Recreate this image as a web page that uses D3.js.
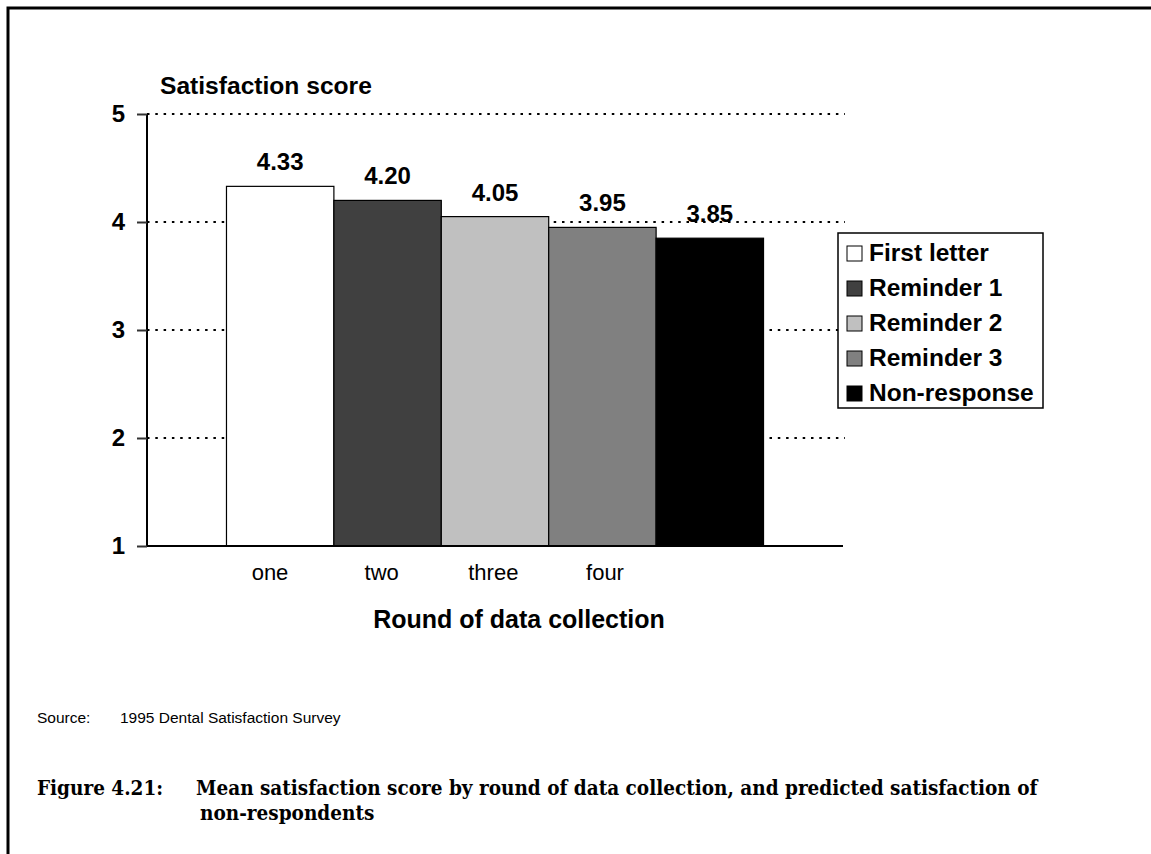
<!DOCTYPE html>
<html>
<head>
<meta charset="utf-8">
<script src="https://cdn.jsdelivr.net/npm/d3@7"></script>
<style>
  html, body { margin: 0; padding: 0; background: #fff; }
  svg { display: block; }
</style>
</head>
<body>
<svg id="chart" width="1151" height="854"></svg>
<script>
const seriesNames = ["First letter", "Reminder 1", "Reminder 2", "Reminder 3", "Non-response"];
const seriesValues = [4.33, 4.20, 4.05, 3.95, 3.85];
const seriesColors = ["#ffffff", "#404040", "#c0c0c0", "#808080", "#000000"];
const roundLabels = ["one", "two", "three", "four"];
const yTicks = [1, 2, 3, 4, 5];
const gridTicks = [2, 3, 4, 5];

(function () {
const svg = d3.select("#chart");
const sans = "'Liberation Sans', Arial, sans-serif";
const serif = "'DejaVu Serif Condensed', 'DejaVu Serif', serif";

// frame
svg.append("path")
  .attr("d", "M8,854 L8,8 L1151,8")
  .attr("fill", "none").attr("stroke", "#000").attr("stroke-width", 3);

const pLeft = 147, pRight = 843, pTop = 114, pBottom = 546;
const y = d3.scaleLinear().domain([1, 5]).range([pBottom, pTop]);
const x = d3.scaleBand().domain(seriesNames).range([pLeft, pRight]).paddingInner(0).paddingOuter(0.74);
const xLab = d3.scalePoint().domain(roundLabels).range([270, 605]);

// gridlines
svg.append("g").selectAll("line").data(gridTicks).join("line")
  .attr("x1", pLeft).attr("x2", pRight + 2)
  .attr("y1", d => y(d)).attr("y2", d => y(d))
  .attr("stroke", "#000").attr("stroke-width", 2)
  .attr("stroke-dasharray", "2.5,5.8");

// bars
svg.append("g").selectAll("rect").data(seriesValues).join("rect")
  .attr("x", (d, i) => x(seriesNames[i]))
  .attr("y", d => y(d))
  .attr("width", x.bandwidth())
  .attr("height", d => y(1) - y(d))
  .attr("fill", (d, i) => seriesColors[i])
  .attr("stroke", "#000").attr("stroke-width", 1.2);

// value labels
svg.append("g").selectAll("text").data(seriesValues).join("text")
  .attr("x", (d, i) => x(seriesNames[i]) + x.bandwidth() / 2)
  .attr("y", d => y(d) - 16)
  .attr("text-anchor", "middle")
  .attr("font-family", sans).attr("font-weight", "bold").attr("font-size", 24)
  .text(d => d.toFixed(2));

// y axis
const yAxis = svg.append("g").attr("transform", `translate(${pLeft},0)`)
  .call(d3.axisLeft(y).tickValues(yTicks).tickSize(10).tickPadding(12).tickFormat(d3.format("d")));
yAxis.select(".domain").attr("stroke", "#000").attr("stroke-width", 2).attr("d", `M0,${pTop}V${pBottom}`);
yAxis.selectAll(".tick line").attr("stroke", "#333").attr("stroke-width", 2);
yAxis.selectAll(".tick text")
  .attr("font-family", sans).attr("font-weight", "bold").attr("font-size", 24).attr("fill", "#000");

// x axis line
svg.append("line").attr("x1", pLeft).attr("x2", pRight).attr("y1", pBottom).attr("y2", pBottom)
  .attr("stroke", "#000").attr("stroke-width", 2);

// x category labels
svg.append("g").selectAll("text").data(roundLabels).join("text")
  .attr("x", d => xLab(d))
  .attr("y", 580)
  .attr("text-anchor", "middle")
  .attr("font-family", sans).attr("font-size", 22)
  .text(d => d);

// axis titles
svg.append("text").attr("x", 160).attr("y", 94)
  .attr("font-family", sans).attr("font-weight", "bold").attr("font-size", 24.6)
  .text("Satisfaction score");
svg.append("text").attr("x", (pLeft + pRight) / 2 + 24).attr("y", 628)
  .attr("text-anchor", "middle")
  .attr("font-family", sans).attr("font-weight", "bold").attr("font-size", 25)
  .text("Round of data collection");

// legend
const lg = svg.append("g").attr("transform", "translate(838,233)");
lg.append("rect").attr("width", 205).attr("height", 175)
  .attr("fill", "#fff").attr("stroke", "#000").attr("stroke-width", 1.5);
const items = lg.selectAll("g.item").data(seriesNames).join("g")
  .attr("transform", (d, i) => `translate(9,${13 + i * 35})`);
items.append("rect").attr("width", 15).attr("height", 15)
  .attr("fill", (d, i) => seriesColors[i]).attr("stroke", "#000").attr("stroke-width", 1);
items.append("text").attr("x", 22).attr("y", 15)
  .attr("font-family", sans).attr("font-weight", "bold").attr("font-size", 24.5)
  .text(d => d);

// source
svg.append("text").attr("x", 37).attr("y", 723)
  .attr("font-family", sans).attr("font-size", 15.5).text("Source:");
svg.append("text").attr("x", 120).attr("y", 723)
  .attr("font-family", sans).attr("font-size", 15.5).text("1995 Dental Satisfaction Survey");

// caption: label, hanging indent
const capStyle = sel => sel.attr("font-family", serif).attr("font-weight", "bold")
  .attr("font-size", 17).attr("font-stretch", "condensed");
const capLabel = svg.append("text").attr("x", 37).attr("y", 795).call(capStyle).text("Figure 4.21:");
const cap1 = svg.append("text").attr("x", 196).attr("y", 795).call(capStyle)
  .text("Mean satisfaction score by round of data collection, and predicted satisfaction of");
const cap2 = svg.append("text").attr("x", 200).attr("y", 820).call(capStyle)
  .text("non-respondents");
const w = cap1.node().getComputedTextLength();
const target = 1038 - 196;
if (w > 0) {
  const fs = 17 * target / w;
  capLabel.attr("font-size", fs);
  cap1.attr("font-size", fs);
  cap2.attr("font-size", fs);
}
})();
</script>
</body>
</html>
